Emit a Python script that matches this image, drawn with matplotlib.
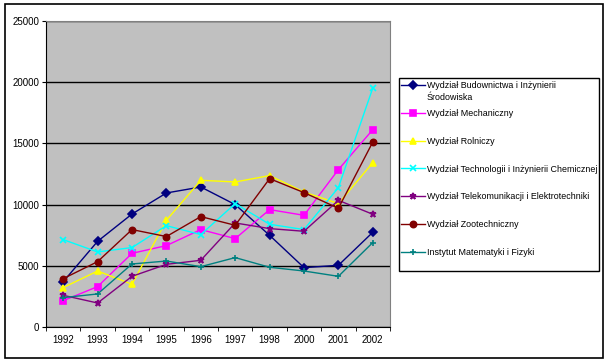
import matplotlib.pyplot as plt
import numpy as np
from matplotlib.patches import Rectangle

plt.rcParams['font.family'] = ['Liberation Sans', 'DejaVu Sans']

years = ['1992', '1993', '1994', '1995', '1996', '1997', '1998', '2000', '2001', '2002']

budownictwo = [3700, 7000, 9230, 10950, 11440, 10000, 7490, 4850, 5040, 7740]
mechaniczny = [2150, 3300, 6020, 6650, 7960, 7220, 9590, 9125, 12860, 16125]
rolniczy = [3220, 4575, 3490, 8720, 11985, 11850, 12370, 11030, 10080, 13430]
technologia = [7140, 6130, 6490, 8280, 7550, 10080, 8390, 7960, 11390, 19530]
telekomunikacja = [2590, 1960, 4140, 5120, 5450, 8500, 8040, 7820, 10350, 9210]
zootechniczny = [3950, 5340, 7960, 7390, 9020, 8310, 12120, 10980, 9700, 15115]
instytut = [2400, 2700, 5150, 5390, 4930, 5670, 4880, 4575, 4140, 6900]

# first label wraps onto a second line, as in the original legend
first_label_rest = "Środowiska"

series = [
    ("Wydział Budownictwa i Inżynierii", budownictwo, '#000080', 'D', 4),
    ("Wydział Mechaniczny", mechaniczny, '#FF00FF', 's', 4.5),
    ("Wydział Rolniczy", rolniczy, '#FFFF00', '^', 5),
    ("Wydział Technologii i Inżynierii Chemicznej", technologia, '#00FFFF', 'x', 4),
    ("Wydział Telekomunikacji i Elektrotechniki", telekomunikacja, '#800080', '*', 4.5),
    ("Wydział Zootechniczny", zootechniczny, '#800000', 'o', 4.5),
    ("Instytut Matematyki i Fizyki", instytut, '#008080', '+', 4.5),
]

fig = plt.figure(figsize=(6.08, 3.63), dpi=100)
fig.patch.set_facecolor('white')

# outer chart frame
fig.patches.append(Rectangle((5 / 608, 1 - 358 / 363), 598 / 608, 354 / 363,
                             transform=fig.transFigure, fill=False,
                             edgecolor='black', linewidth=1.2))
# legend frame
fig.patches.append(Rectangle((399 / 608, 1 - 271 / 363), 200 / 608, 193 / 363,
                             transform=fig.transFigure, fill=False,
                             edgecolor='black', linewidth=1))

ax = fig.add_axes([46 / 608, 1 - 327 / 363, 344 / 608, 306 / 363])
ax.set_facecolor('#C0C0C0')

x = np.arange(len(years))
for label, vals, color, marker, ms in series:
    ax.plot(x, vals, color=color, marker=marker, markersize=ms, linewidth=1,
            markeredgewidth=1.2, label=label)

ax.set_xlim(-0.5, len(years) - 0.5)
ax.set_ylim(0, 25000)
ax.set_yticks(np.arange(0, 25001, 5000))
ax.tick_params(axis='y', labelsize=7, length=3, direction='out', pad=2)
ax.set_xticks(x)
ax.set_xticklabels(years)
ax.tick_params(axis='x', which='major', length=0, labelsize=7, pad=6)
ax.set_xticks(np.arange(-0.5, len(years), 1), minor=True)
ax.tick_params(axis='x', which='minor', length=3, direction='out')
ax.yaxis.grid(True, color='black', linewidth=1)
ax.set_axisbelow(True)

for side in ['top', 'right']:
    ax.spines[side].set_color('#808080')
ax.spines['left'].set_color('black')
ax.spines['bottom'].set_color('black')

leg = fig.legend(loc='upper left', bbox_to_anchor=(401 / 608, 1 - 81 / 363),
                 fontsize=6.4, frameon=False, handlelength=2.65,
                 labelspacing=2.12, borderpad=0, handletextpad=0.25,
                 borderaxespad=0)

# second line of the first legend entry, under its first line
fig.canvas.draw()
bb = leg.get_texts()[0].get_window_extent().transformed(fig.transFigure.inverted())
fig.text(bb.x0, bb.y0 - 12 / 363 + bb.height / 2, first_label_rest,
         fontsize=6.4, va='center', ha='left')

fig.savefig('out.png', dpi=100)
